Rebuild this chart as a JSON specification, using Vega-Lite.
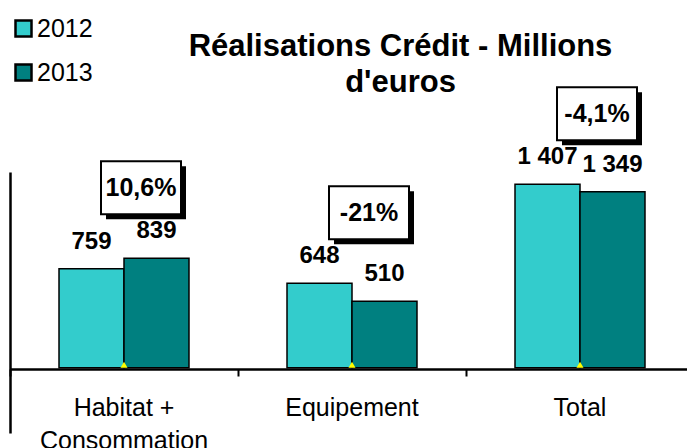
{
  "$schema": "https://vega.github.io/schema/vega-lite/v6.json",
  "width": 677,
  "height": 261,
  "autosize": {"type": "none"},
  "padding": {"left": 10, "top": 172, "right": 0, "bottom": 15},
  "background": "white",
  "config": {"view": {"stroke": null}, "font": "Liberation Sans"},
  "title": {
    "text": ["Réalisations Crédit - Millions", "d'euros"],
    "font": "Liberation Sans",
    "fontSize": 31,
    "fontWeight": "bold",
    "color": "black",
    "lineHeight": 36,
    "anchor": "middle",
    "frame": "group",
    "dx": 52,
    "dy": 87
  },
  "datasets": {
    "bars": [
      {"cat": "Habitat + Consommation", "year": "2012", "value": 759, "label": "759"},
      {"cat": "Habitat + Consommation", "year": "2013", "value": 839, "label": "839"},
      {"cat": "Equipement", "year": "2012", "value": 648, "label": "648"},
      {"cat": "Equipement", "year": "2013", "value": 510, "label": "510"},
      {"cat": "Total", "year": "2012", "value": 1407, "label": "1 407"},
      {"cat": "Total", "year": "2013", "value": 1349, "label": "1 349"}
    ],
    "changes": [
      {"cat": "Habitat + Consommation", "change": "10,6%"},
      {"cat": "Equipement", "change": "-21%"},
      {"cat": "Total", "change": "-4,1%"}
    ]
  },
  "encoding": {
    "x": {
      "field": "cat",
      "type": "nominal",
      "sort": ["Habitat + Consommation", "Equipement", "Total"],
      "scale": {"range": [0, 684], "paddingInner": 0, "paddingOuter": 0},
      "axis": {
        "title": null,
        "bandPosition": 0,
        "labelOffset": 0,
        "labelAngle": 0,
        "labelFontSize": 25,
        "labelColor": "black",
        "labelFont": "Liberation Sans",
        "labelLineHeight": 33,
        "labelExpr": "datum.label == 'Habitat + Consommation' ? ['Habitat +', 'Consommation'] : datum.label",
        "labelPadding": 19,
        "labelOverlap": false,
        "tickSize": 7,
        "tickWidth": 2,
        "tickColor": "black",
        "domainColor": "black",
        "domainWidth": 2.5,
        "offset": -64
      }
    }
  },
  "layer": [
    {
      "data": {"name": "bars"},
      "mark": {"type": "bar", "stroke": "black", "strokeWidth": 1.5},
      "encoding": {
        "xOffset": {"field": "year", "type": "nominal", "scale": {"paddingInner": 0, "paddingOuter": 0.754}},
        "y": {
          "field": "value",
          "type": "quantitative",
          "stack": null,
          "scale": {"domain": [-500, 1500], "nice": false},
          "axis": {"title": null, "labels": false, "ticks": false, "grid": false, "domainColor": "black", "domainWidth": 2.5}
        },
        "color": {
          "field": "year",
          "type": "nominal",
          "scale": {"domain": ["2012", "2013"], "range": ["#33CCCC", "#008080"]},
          "legend": {
            "orient": "none",
            "legendX": 1,
            "legendY": -156,
            "title": null,
            "padding": 0,
            "symbolType": "square",
            "symbolSize": 256,
            "symbolStrokeColor": "black",
            "symbolStrokeWidth": 2.5,
            "symbolOpacity": 1,
            "labelFontSize": 25,
            "labelColor": "black",
            "labelFont": "Liberation Sans",
            "labelOffset": 1,
            "rowPadding": 17
          }
        }
      }
    },
    {
      "data": {"name": "bars"},
      "mark": {"type": "text", "font": "Liberation Sans", "fontSize": 24, "fontWeight": "bold", "color": "black", "baseline": "alphabetic", "dy": -20},
      "encoding": {
        "xOffset": {"field": "year", "type": "nominal"},
        "y": {"field": "value", "type": "quantitative"},
        "text": {"field": "label"}
      }
    },
    {
      "data": {"name": "bars"},
      "transform": [{"filter": "datum.year == '2012'"}],
      "mark": {"type": "point", "shape": "triangle-up", "filled": true, "size": 50, "color": "#FFFF00", "opacity": 1, "strokeWidth": 0, "yOffset": -3},
      "encoding": {
        "y": {"datum": 0}
      }
    },
    {
      "data": {"name": "bars"},
      "transform": [
        {"aggregate": [{"op": "max", "field": "value", "as": "top"}], "groupby": ["cat"]},
        {"lookup": "cat", "from": {"data": {"name": "changes"}, "key": "cat", "fields": ["change"]}}
      ],
      "layer": [
        {
          "mark": {"type": "bar", "width": 80, "color": "black", "xOffset": 22, "yOffset": -92, "y2Offset": -39},
          "encoding": {
            "y": {"field": "top", "type": "quantitative"},
            "y2": {"field": "top"}
          }
        },
        {
          "mark": {"type": "bar", "width": 80, "fill": "white", "stroke": "black", "strokeWidth": 2, "xOffset": 17, "yOffset": -97, "y2Offset": -44},
          "encoding": {
            "y": {"field": "top", "type": "quantitative"},
            "y2": {"field": "top"}
          }
        },
        {
          "mark": {"type": "text", "font": "Liberation Sans", "fontSize": 25, "fontWeight": "bold", "color": "black", "baseline": "middle", "xOffset": 17, "yOffset": -70},
          "encoding": {
            "y": {"field": "top", "type": "quantitative"},
            "text": {"field": "change"}
          }
        }
      ]
    }
  ]
}
